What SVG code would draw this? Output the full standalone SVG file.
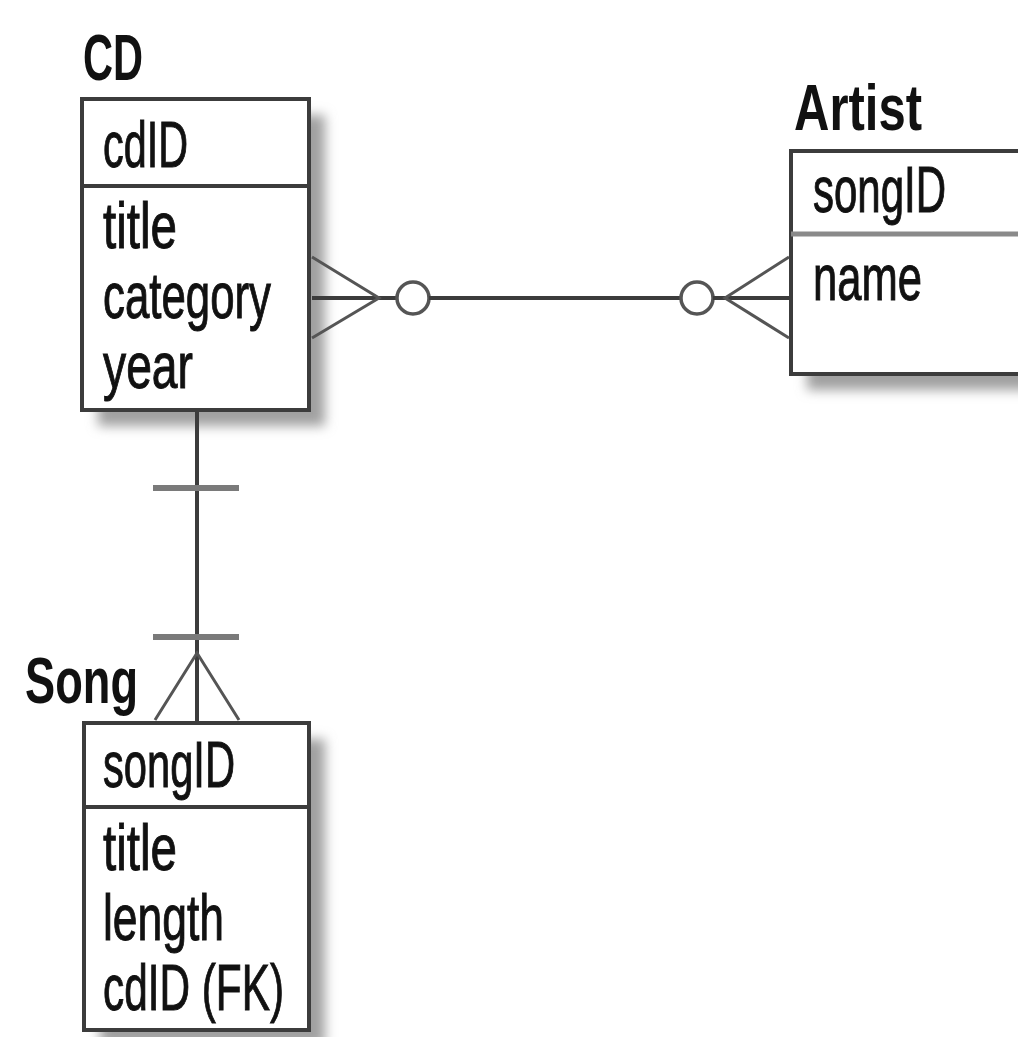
<svg xmlns="http://www.w3.org/2000/svg" width="1018" height="1037" viewBox="0 0 1018 1037">
<style>
.box{fill:#fff;stroke:#3c3c3c;stroke-width:4}
.shadow{fill:#a0a0a0;filter:url(#blur)}
.div{stroke:#3c3c3c;stroke-width:4}
.t{font-family:"Liberation Sans",Arial,sans-serif;font-size:64px;fill:#111;stroke:#111;stroke-width:1}
.h{font-family:"Liberation Sans",Arial,sans-serif;font-size:64px;font-weight:bold;fill:#111}
.ln{stroke:#3c3c3c;stroke-width:4;fill:none}
.cf{stroke:#555;stroke-width:3;fill:none}
.bar{stroke:#7a7a7a;stroke-width:6}
.circ{stroke:#555;stroke-width:3.5;fill:#fff}
</style>
<defs>
<filter id="blur" x="-20%" y="-20%" width="140%" height="140%"><feGaussianBlur stdDeviation="6"/></filter>
</defs>
<rect width="1018" height="1037" fill="#fff"/>
<g id="cd">
<rect class="shadow" x="98" y="115" width="227" height="311"/>
<rect class="box" x="82" y="99" width="227" height="311"/>
<line class="div" x1="82" y1="186" x2="309" y2="186"/>
<text class="h" x="83" y="80" textLength="60" lengthAdjust="spacingAndGlyphs">CD</text>
<text class="t" x="103" y="167" textLength="85" lengthAdjust="spacingAndGlyphs">cdID</text>
<text class="t" x="103" y="248" textLength="74" lengthAdjust="spacingAndGlyphs">title</text>
<text class="t" x="103" y="318" textLength="168" lengthAdjust="spacingAndGlyphs">category</text>
<text class="t" x="103" y="388" textLength="90" lengthAdjust="spacingAndGlyphs">year</text>
</g>
<g id="artist">
<rect class="shadow" x="807" y="167" width="240" height="223"/>
<rect class="box" x="791" y="151" width="240" height="223"/>
<line x1="791" y1="234" x2="1018" y2="234" stroke="#8a8a8a" stroke-width="5"/>
<text class="h" x="794" y="130" textLength="128" lengthAdjust="spacingAndGlyphs">Artist</text>
<text class="t" x="813" y="212" textLength="133" lengthAdjust="spacingAndGlyphs">songID</text>
<text class="t" x="813" y="300" textLength="109" lengthAdjust="spacingAndGlyphs">name</text>
</g>
<g id="song">
<rect class="shadow" x="100" y="739" width="225" height="307"/>
<rect class="box" x="84" y="723" width="225" height="307"/>
<line class="div" x1="84" y1="807" x2="309" y2="807"/>
<text class="h" x="25" y="703" textLength="113" lengthAdjust="spacingAndGlyphs">Song</text>
<text class="t" x="103" y="787" textLength="132" lengthAdjust="spacingAndGlyphs">songID</text>
<text class="t" x="103" y="870" textLength="74" lengthAdjust="spacingAndGlyphs">title</text>
<text class="t" x="103" y="940" textLength="121" lengthAdjust="spacingAndGlyphs">length</text>
<text class="t" x="103" y="1010" textLength="181" lengthAdjust="spacingAndGlyphs">cdID (FK)</text>
</g>
<g id="connectors">
<line class="ln" x1="312" y1="298" x2="397" y2="298"/>
<polyline class="cf" points="312,257 379,298 312,338"/>
<circle class="circ" cx="413" cy="298" r="16"/>
<line class="ln" x1="429" y1="298" x2="681" y2="298"/>
<circle class="circ" cx="697" cy="298" r="16"/>
<line class="ln" x1="713" y1="298" x2="789" y2="298"/>
<polyline class="cf" points="789,257 725,298 789,338"/>
<line class="ln" x1="197" y1="412" x2="197" y2="721"/>
<line class="bar" x1="153" y1="488" x2="239" y2="488"/>
<line class="bar" x1="153" y1="637" x2="239" y2="637"/>
<polyline class="cf" points="155,720 197,653 239,720"/>
</g>
</svg>
